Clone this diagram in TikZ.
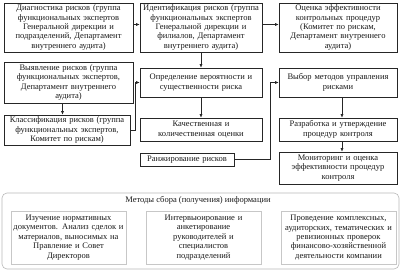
\documentclass[tikz,border=0pt]{standalone}
\usepackage{fontspec}
\setmainfont{Liberation Serif}
\usetikzlibrary{arrows.meta}
\tikzset{
  mainbox/.style={draw=black!85, line width=0.6pt, align=center, inner sep=0pt,
    font=\fontsize{8.5}{9.4}\selectfont, text=black!90},
  infobox/.style={draw=black!22, line width=0.6pt, align=center, inner sep=0pt,
    font=\fontsize{8.5}{9.4}\selectfont, text=black!90},
  outerbox/.style={draw=black!28, line width=0.6pt, rounded corners=5pt},
  arr/.style={draw=black!85, line width=0.6pt, -{Latex[length=3.5pt,width=3pt]}},
}
\begin{document}
\begin{tikzpicture}[x=1pt,y=-1pt]
\useasboundingbox (0,0) rectangle (402,271);
% row 1
\node[mainbox, text width=129pt, minimum height=49pt] (d1) at (68.5,27.5)
  {Диагностика рисков (группа\\функциональных экспертов\\Генеральной дирекции и\\подразделений, Департамент\\внутреннего аудита)};
\node[mainbox, text width=122pt, minimum height=49pt] (d2) at (201,27.5)
  {Идентификация рисков (группа\\функциональных экспертов\\Генеральной дирекции и\\филиалов, Департамент\\внутреннего аудита)};
\node[mainbox, text width=118pt, minimum height=49pt] (d3) at (338,27.5)
  {Оценка эффективности\\контрольных процедур\\(Комитет по рискам,\\Департамент внутреннего\\аудита)};
% column 1
\node[mainbox, text width=129pt, minimum height=41pt] (vy) at (68.5,82.5)
  {Выявление рисков (группа\\функциональных экспертов,\\Департамент внутреннего\\аудита)};
\node[mainbox, text width=126pt, minimum height=30pt] (kl) at (67,130)
  {Классификация рисков (группа\\функциональных экспертов,\\Комитет по рискам)};
% column 2
\node[mainbox, text width=122pt, minimum height=29pt] (op) at (201,82.5)
  {Определение вероятности и\\существенности риска};
\node[mainbox, text width=122pt, minimum height=23pt] (kach) at (201,129.5)
  {Качественная и\\количественная оценки};
\node[mainbox, text width=94pt, minimum height=13pt] (rank) at (187,159.5)
  {Ранжирование рисков};
% column 3
\node[mainbox, text width=118pt, minimum height=29pt] (vyb) at (338,82.5)
  {Выбор методов управления\\рисками};
\node[mainbox, text width=118pt, minimum height=23pt] (razr) at (338,129.5)
  {Разработка и утверждение\\процедур контроля};
\node[mainbox, text width=118pt, minimum height=32pt] (mon) at (338,168)
  {Мониторинг и оценка\\эффективности процедур\\контроля};
% bottom panel
\draw[outerbox] (2,193) rectangle (399,269);
\node[font=\fontsize{8.5}{9.4}\selectfont, text=black!90, inner sep=0pt] (title) at (198,200)
  {Методы сбора (получения) информации};
\node[infobox, text width=115pt, minimum height=53pt] (ia) at (68.5,237.5)
  {Изучение нормативных\\документов. Анализ сделок и\\материалов, выносимых на\\Правление и Совет\\Директоров};
\node[infobox, text width=115pt, minimum height=53pt] (ib) at (203.5,237.5)
  {Интервьюирование и\\анкетирование\\руководителей и\\специалистов\\подразделений};
\node[infobox, text width=115pt, minimum height=53pt] (ic) at (338.5,237.5)
  {Проведение комплексных,\\аудиторских, тематических и\\ревизионных проверок\\финансово-хозяйственной\\деятельности компании};
% connectors
\coordinate (cx) at (270,0);
\draw[arr] ([yshift=3pt]d1.east) -- ([yshift=3pt]d2.west);
\draw[arr] ([yshift=3pt]d2.east) -- ([yshift=3pt]d3.west);
\draw[arr] (d2.south) -- (op.north);
\draw[arr] ([xshift=-6pt]vy.south) -- ([xshift=-6pt]vy.south |- kl.north);
\draw[arr] (kl.east) -- ++(5,0) |- (op.west);
\draw[arr] (op.south) -- (kach.north);
\draw[arr] (rank.east) -- (rank.east -| cx) |- (vyb.west);
\draw[arr] ([xshift=4pt]vyb.south) -- ([xshift=4pt]razr.north);
\draw[arr] ([xshift=4pt]razr.south) -- ([xshift=4pt]mon.north);
\end{tikzpicture}
\end{document}
